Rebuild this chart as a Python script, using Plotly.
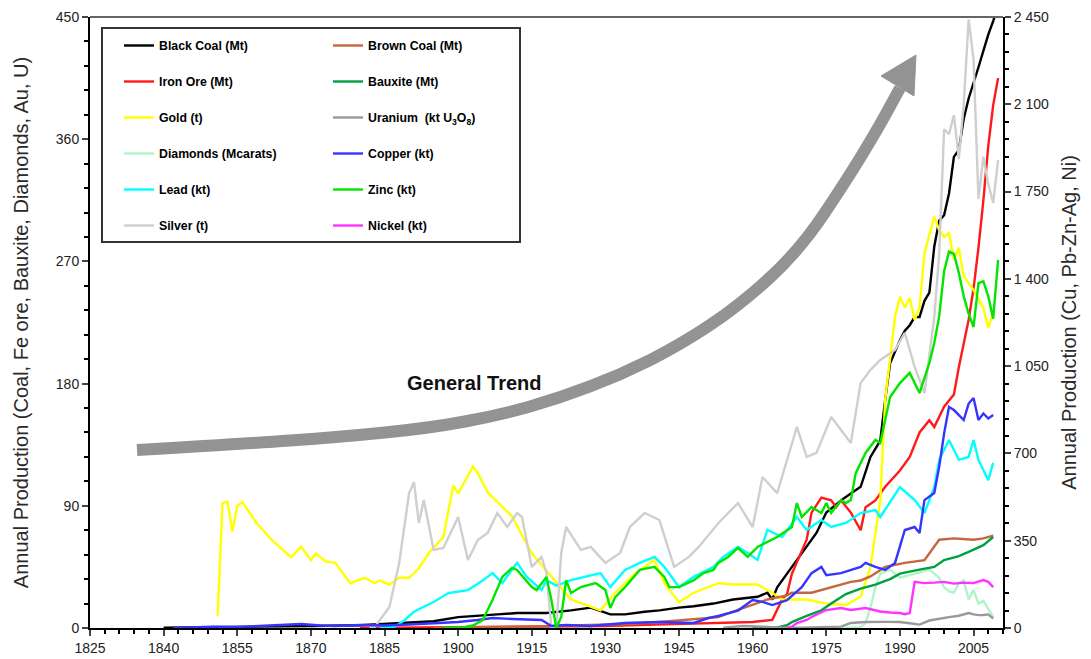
import plotly.graph_objects as go

# ---- data ----
# left axis: Mt (coal, iron ore, bauxite), t (gold), kt U3O8, Mcarats
black_coal_yr = [1840, 1850, 1860, 1870, 1880, 1886, 1890, 1895, 1900, 1905, 1908, 1912, 1918, 1923,
                 1927, 1931, 1934, 1938, 1941, 1945, 1948, 1952, 1956, 1961, 1963, 1964, 1965, 1968,
                 1971, 1973, 1975, 1978, 1980, 1982, 1984, 1986, 1987, 1988, 1990, 1991, 1992, 1993,
                 1994, 1995, 1996, 1997, 1998, 1999, 2000, 2001, 2002, 2003, 2004, 2005, 2006, 2007,
                 2008, 2009, 2010]
black_coal = [0.2, 0.5, 1, 1.5, 2, 3, 4, 5, 8, 9, 10, 11, 11, 13,
              15, 10, 10, 12, 13, 15, 16, 18, 21, 23, 26, 21, 30, 45,
              60, 70, 85, 94, 99, 104, 126, 138, 168, 195, 212, 219, 223, 229,
              229, 241, 247, 281, 300, 304, 320, 347, 352, 375, 390, 401, 413, 425,
              437, 447, 458]

brown_coal_yr = [1895, 1905, 1915, 1925, 1935, 1941, 1946, 1950, 1953, 1956, 1960, 1963, 1967, 1968,
                 1972, 1976, 1980, 1982, 1984, 1987, 1991, 1995, 1997, 1998, 2001, 2005, 2007, 2009]
brown_coal = [0.3, 0.5, 1, 2, 3, 4.4, 6, 7, 8, 12, 17, 21, 24, 26,
              26, 30, 34, 35, 38, 45, 48, 50, 60, 65, 66, 65, 66, 68]

iron_ore_yr = [1880, 1900, 1915, 1930, 1940, 1950, 1960, 1964, 1965, 1966, 1967, 1968, 1971, 1972,
               1974, 1976, 1977, 1978, 1980, 1982, 1983, 1985, 1987, 1990, 1992, 1994, 1996, 1997,
               1999, 2001, 2002, 2003, 2004, 2005, 2006, 2007, 2008, 2009, 2010]
iron_ore = [0, 0.5, 1, 1.5, 2.5, 3.5, 4.4, 6, 13, 21, 25, 40, 65, 85,
            96, 94, 89, 94, 85, 72, 89, 94, 104, 116, 126, 144, 153, 148,
            163, 172, 192, 210, 227, 250, 280, 315, 355, 385, 405]

bauxite_yr = [1960, 1963, 1965, 1967, 1968, 1971, 1974, 1976, 1979, 1982, 1985, 1988, 1990, 1994,
              1997, 1999, 2002, 2004, 2007, 2009]
bauxite = [0, 0.2, 0.5, 2, 4.4, 9, 13, 18, 25, 29, 32, 36, 40, 43,
           45, 50, 53, 56, 61, 67]

gold_yr = [1851, 1852, 1853, 1854, 1855, 1856, 1859, 1862, 1866, 1868, 1870, 1871, 1873, 1875,
           1878, 1881, 1883, 1884, 1886, 1888, 1890, 1892, 1894, 1897, 1899, 1900, 1903, 1904,
           1906, 1911, 1915, 1919, 1923, 1929, 1932, 1936, 1940, 1942, 1945, 1948, 1953, 1956,
           1961, 1964, 1966, 1971, 1975, 1979, 1982, 1984, 1986, 1987, 1989, 1990, 1991, 1992,
           1993, 1994, 1995, 1997, 1998, 1999, 2000, 2001, 2002, 2003, 2005, 2007, 2008, 2009]
gold = [9, 92, 93, 71, 90, 93, 77, 65, 52, 60, 50, 55, 49, 48,
        33, 37, 33, 35, 32, 37, 37, 44, 55, 67, 105, 99, 119, 114,
        100, 82, 55, 38, 21, 13, 26, 40, 50, 33, 19, 26, 33, 32,
        32, 26, 21, 21, 18, 17, 23, 45, 94, 168, 229, 244, 236, 243,
        227, 236, 276, 303, 293, 288, 291, 271, 280, 259, 249, 236, 221, 232]

uranium_yr = [1954, 1956, 1958, 1962, 1966, 1970, 1976, 1978, 1980, 1983, 1987, 1990, 1992, 1994,
              1996, 1998, 2000, 2002, 2004, 2005, 2006, 2007, 2008, 2009]
uranium = [0.2, 1, 1.5, 1, 0.3, 0.2, 0.5, 1, 3.7, 4.4, 4.5, 4.4, 3.5, 2.5,
           5.5, 7, 8, 9, 11, 10, 9.5, 9.6, 10, 7]

diamonds_yr = [1978, 1982, 1983, 1984, 1985, 1986, 1988, 1990, 1992, 1993, 1995, 1996, 1998, 1999,
               2000, 2001, 2002, 2003, 2004, 2005, 2006, 2007, 2008, 2009]
diamonds = [0, 0.5, 3.7, 15, 30, 40, 43, 37, 39, 40, 42, 43, 37, 30,
            27, 26, 33, 35, 21, 28, 18, 20, 14, 8]

# right axis: kt (Cu, Pb, Zn, Ni), t (Ag)
copper_yr = [1842, 1845, 1850, 1855, 1860, 1866, 1868, 1872, 1875, 1880, 1885, 1890, 1895, 1900,
             1904, 1907, 1911, 1917, 1919, 1922, 1927, 1930, 1934, 1941, 1945, 1948, 1951, 1953,
             1957, 1960, 1962, 1964, 1967, 1970, 1972, 1974, 1975, 1978, 1982, 1983, 1985, 1987,
             1989, 1990, 1991, 1993, 1994, 1995, 1997, 1998, 1999, 2000, 2001, 2003, 2004, 2005,
             2006, 2007, 2008, 2009]
copper = [0, 2, 5, 4, 8, 12, 16, 10, 8, 12, 10, 14, 18, 24,
          32, 40, 36, 32, 8, 12, 8, 14, 20, 24, 20, 20, 40, 48,
          70, 112, 105, 92, 112, 164, 220, 245, 212, 220, 245, 261, 245, 233,
          261, 325, 393, 405, 381, 513, 541, 646, 780, 886, 874, 834, 900, 922,
          834, 860, 840, 854]

lead_yr = [1884, 1887, 1889, 1891, 1893, 1895, 1898, 1902, 1905, 1907, 1909, 1911, 1912, 1914,
           1917, 1918, 1920, 1923, 1926, 1929, 1931, 1934, 1937, 1940, 1942, 1945, 1948, 1952,
           1954, 1957, 1959, 1961, 1963, 1966, 1969, 1971, 1974, 1976, 1979, 1982, 1985, 1986,
           1990, 1993, 1995, 1997, 1998, 2000, 2002, 2004, 2005, 2006, 2008, 2009]
lead = [0, 4, 30, 65, 85, 104, 140, 152, 190, 220, 180, 233, 261, 205,
        152, 192, 170, 192, 205, 220, 164, 233, 261, 285, 245, 164, 205, 245,
        285, 325, 301, 273, 393, 365, 445, 393, 433, 405, 421, 461, 473, 445,
        565, 513, 461, 565, 674, 754, 674, 686, 754, 674, 593, 662]

zinc_yr = [1897, 1901, 1903, 1905, 1907, 1909, 1911, 1912, 1915, 1916, 1918, 1919, 1920, 1921,
           1922, 1923, 1925, 1928, 1930, 1931, 1932, 1934, 1937, 1940, 1942, 1943, 1945, 1948,
           1950, 1952, 1953, 1955, 1957, 1959, 1961, 1965, 1968, 1969, 1970, 1972, 1974, 1975,
           1976, 1978, 1979, 1980, 1981, 1983, 1985, 1986, 1988, 1990, 1992, 1994, 1996, 1997,
           1998, 1999, 2000, 2001, 2002, 2003, 2004, 2005, 2006, 2007, 2008, 2009, 2010]
zinc = [0, 2, 10, 32, 112, 205, 241, 233, 164, 152, 205, 112, 0, 44,
        192, 140, 164, 180, 152, 80, 124, 164, 233, 245, 205, 164, 164, 192,
        220, 233, 261, 285, 321, 285, 325, 365, 405, 501, 445, 485, 461, 501,
        461, 513, 501, 513, 621, 702, 754, 742, 926, 982, 1023, 942, 1063, 1143,
        1250, 1430, 1510, 1500, 1424, 1330, 1260, 1207, 1383, 1390, 1330, 1240, 1476]

silver_yr = [1882, 1883, 1886, 1888, 1890, 1891, 1892, 1893, 1895, 1897, 1900, 1902, 1904, 1906,
             1908, 1910, 1912, 1913, 1915, 1917, 1918, 1919, 1920, 1921, 1922, 1925, 1927, 1930,
             1933, 1935, 1938, 1941, 1944, 1947, 1949, 1953, 1955, 1957, 1960, 1962, 1965, 1969,
             1971, 1973, 1976, 1980, 1982, 1984, 1986, 1989, 1991, 1993, 1995, 1997, 1998, 1999,
             2000, 2001, 2002, 2003, 2004, 2005, 2006, 2007, 2008, 2009, 2010]
silver = [0, 4, 84, 261, 540, 585, 421, 513, 313, 321, 445, 273, 353, 381,
          461, 405, 461, 445, 245, 285, 220, 0, 0, 301, 405, 313, 325, 261,
          301, 405, 461, 433, 245, 285, 325, 420, 461, 501, 405, 605, 541, 806,
          686, 702, 846, 742, 982, 1035, 1075, 1115, 1183, 1047, 942, 1247, 1500, 2000,
          1980, 2057, 1880, 2100, 2440, 2280, 1720, 1890, 1780, 1704, 1877]

nickel_yr = [1967, 1968, 1969, 1971, 1972, 1974, 1975, 1978, 1980, 1983, 1986, 1988, 1990, 1991,
             1992, 1993, 1995, 1997, 1999, 2001, 2003, 2005, 2007, 2008, 2009]
nickel = [0, 5, 20, 32, 44, 64, 72, 80, 72, 80, 66, 62, 60, 55,
          60, 185, 180, 182, 185, 178, 182, 180, 192, 185, 164]

x_ticks = list(range(1825, 2006, 15))
left_ticks = [0, 90, 180, 270, 360, 450]
right_ticks = [0, 350, 700, 1050, 1400, 1750, 2100, 2450]
right_ticktext = ["0", "350", "700", "1 050", "1 400", "1 750", "2 100", "2 450"]

# name, years, values, colour, y axis, legend column
series = [
    ("Black Coal (Mt)", black_coal_yr, black_coal, "#000000", "y", "legend"),
    ("Iron Ore (Mt)", iron_ore_yr, iron_ore, "#ff1a1a", "y", "legend"),
    ("Gold (t)", gold_yr, gold, "#ffff00", "y", "legend"),
    ("Diamonds (Mcarats)", diamonds_yr, diamonds, "#b0f5c8", "y", "legend"),
    ("Lead (kt)", lead_yr, lead, "#00ffff", "y2", "legend"),
    ("Silver (t)", silver_yr, silver, "#cfcfcf", "y2", "legend"),
    ("Brown Coal (Mt)", brown_coal_yr, brown_coal, "#c4663e", "y", "legend2"),
    ("Bauxite (Mt)", bauxite_yr, bauxite, "#00a040", "y", "legend2"),
    ("Uranium  (kt U<sub>3</sub>O<sub>8</sub>)", uranium_yr, uranium, "#999999", "y", "legend2"),
    ("Copper (kt)", copper_yr, copper, "#3535ff", "y2", "legend2"),
    ("Zinc (kt)", zinc_yr, zinc, "#00e600", "y2", "legend2"),
    ("Nickel (kt)", nickel_yr, nickel, "#ff33ff", "y2", "legend2"),
]

# page is 1091x659 but the html body has an 8px margin, so the figure is a bit smaller
PAGE_W, PAGE_H, BODY = 1091, 659, 8
W, H = PAGE_W - BODY, PAGE_H - BODY
# plot box in page pixels, used to place the decorations
L, R, T, B = 90, 1003, 17, 628


def px(x):
    return (x - L) / (R - L)


def py(y):
    return (B - y) / (B - T)


def smooth_path(pts):
    # quadratic segments through the midpoints -> a smooth curve
    out = [f"M {px(pts[0][0]):.4f},{py(pts[0][1]):.4f}"]
    for (x0, y0), (x1, y1) in zip(pts[1:-1], pts[2:]):
        mx, my = (x0 + x1) / 2, (y0 + y1) / 2
        out.append(f"Q {px(x0):.4f},{py(y0):.4f} {px(mx):.4f},{py(my):.4f}")
    out.append(f"L {px(pts[-1][0]):.4f},{py(pts[-1][1]):.4f}")
    return " ".join(out)


fig = go.Figure()
for name, yrs, vals, color, yax, leg in series:
    fig.add_trace(go.Scatter(
        x=yrs, y=vals, name=name, mode="lines", yaxis=yax, legend=leg,
        legendgroup=name, line=dict(color=color, width=2.4),
    ))

# general-trend arrow (shaft + head), page pixels -> paper
shaft = [(137, 450), (240, 444), (340, 437), (430, 428), (500, 415), (560, 398), (620, 375),
         (680, 345), (740, 305), (800, 250), (850, 175), (880, 125), (900, 88)]
head = [(916, 55), (881, 76), (914, 96)]
head_path = "M " + " L ".join(f"{px(a):.4f},{py(b):.4f}" for a, b in head) + " Z"

arrow_grey = "#939393"
shapes = [
    dict(type="path", xref="paper", yref="paper", path=smooth_path(shaft),
         line=dict(color=arrow_grey, width=12)),
    dict(type="path", xref="paper", yref="paper", path=head_path,
         fillcolor=arrow_grey, line=dict(color=arrow_grey, width=1)),
    # legend frame
    dict(type="rect", xref="paper", yref="paper", x0=px(102), x1=px(520), y0=py(242), y1=py(28),
         line=dict(color="#333333", width=2), fillcolor="rgba(0,0,0,0)"),
    # top frame line
    dict(type="line", xref="paper", yref="paper", x0=0, x1=1, y0=1, y1=1,
         line=dict(color="#666666", width=2)),
]

legend_font = dict(family="Liberation Sans, Arial, sans-serif", size=12.3, color="#000000", weight="bold")
leg_common = dict(yanchor="top", xanchor="left", bgcolor="rgba(0,0,0,0)", borderwidth=0,
                  font=legend_font, tracegroupgap=17, itemwidth=30)

tick_font = dict(family="Liberation Sans, Arial, sans-serif", size=14, color="#222222")
title_font = dict(family="Liberation Sans, Arial, sans-serif", size=20, color="#2a2a2a")

fig.update_layout(
    width=W, height=H,
    margin=dict(l=L - BODY, r=PAGE_W - R, t=T - BODY, b=PAGE_H - B, autoexpand=False),
    paper_bgcolor="white", plot_bgcolor="white",
    shapes=shapes,
    legend=dict(x=px(119), y=py(31), **leg_common),
    legend2=dict(x=px(328), y=py(31), **leg_common),
    annotations=[dict(
        text="<b>General Trend</b>", x=px(474), y=py(383), xref="paper", yref="paper",
        showarrow=False, font=dict(family="Liberation Sans, Arial, sans-serif", size=20, color="#111111"),
    )],
    xaxis=dict(
        range=[1825, 2011], tickvals=x_ticks, ticks="outside", ticklen=6, tickwidth=1.5,
        showline=True, linecolor="#000000", linewidth=2, showgrid=False, zeroline=False, automargin=False,
        tickfont=tick_font, minor=dict(dtick=3, tick0=1825, ticks="outside", ticklen=4, tickcolor="#000000"),
    ),
    yaxis=dict(
        range=[0, 450], tickvals=left_ticks, ticks="outside", ticklen=6, tickwidth=1.5,
        showline=True, linecolor="#000000", linewidth=2, showgrid=False, zeroline=False, automargin=False,
        tickfont=tick_font, minor=dict(dtick=18, tick0=0, ticks="outside", ticklen=4, tickcolor="#000000"),
        title=dict(text="Annual Production (Coal, Fe ore, Bauxite, Diamonds, Au, U)", font=title_font, standoff=22),
    ),
    yaxis2=dict(
        range=[0, 2450], tickvals=right_ticks, ticktext=right_ticktext, overlaying="y", side="right",
        ticks="outside", ticklen=6, tickwidth=1.5, automargin=False,
        showline=True, linecolor="#000000", linewidth=2, showgrid=False, zeroline=False,
        tickfont=tick_font, minor=dict(dtick=70, tick0=0, ticks="outside", ticklen=4, tickcolor="#000000"),
        title=dict(text="Annual Production (Cu, Pb-Zn-Ag, Ni)", font=title_font, standoff=14),
    ),
)

fig.write_html("out.html")
